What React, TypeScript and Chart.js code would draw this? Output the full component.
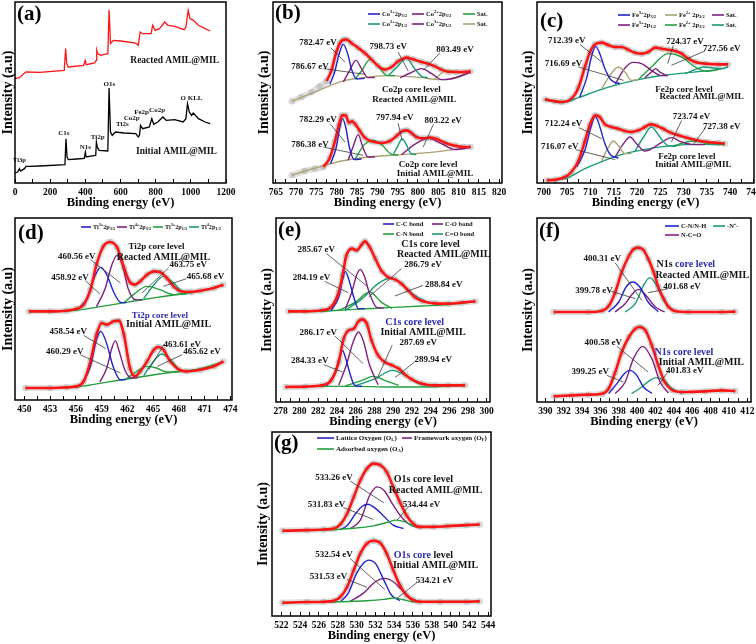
import React, { useEffect, useRef } from "react";
import { Chart, registerables } from "chart.js";

Chart.register(...registerables);

type P = [number, number];

const FONT = '"Liberation Serif", "Times New Roman", serif';
const RED = "#ff1414";
const BLUE = "#2222cc";
const PURPLE = "#7f1f80";
const GREEN = "#22a03c";
const TEAL = "#189a78";
const OLIVE = "#aaa270";
const INK = "#111111";
const NOTE_BLUE = "#2a2ab0";

// ---------------- tick labels ----------------
const aTicks = [0, 200, 400, 600, 800, 1000, 1200];
const bTicks = [765, 770, 775, 780, 785, 790, 795, 800, 805, 810, 815, 820];
const cTicks = [700, 705, 710, 715, 720, 725, 730, 735, 740, 745];
const dTicks = [450, 453, 456, 459, 462, 465, 468, 471, 474];
const eTicks = [278, 280, 282, 284, 286, 288, 290, 292, 294, 296, 298, 300];
const fTicks = [390, 392, 394, 396, 398, 400, 402, 404, 406, 408, 410, 412];
const gTicks = [522, 524, 526, 528, 530, 532, 534, 536, 538, 540, 542, 544];

// ---------------- (a) survey ----------------
const aInitial: P[] = [[0,30],[15,33],[25,43],[31,36],[54,43],[63,50],[83,50],[140,51],[284,55],[290,133],[296,78],[303,70],[351,72],[394,74],[400,93],[405,78],[447,82],[459,83],[463,123],[468,108],[478,98],[528,96],[535,285],[543,153],[553,143],[572,153],[620,150],[687,148],[701,138],[708,143],[714,173],[726,163],[764,168],[778,193],[789,176],[812,183],[841,198],[860,188],[908,190],[956,183],[972,193],[981,238],[991,213],[1004,203],[1014,210],[1043,193],[1081,183],[1110,178]];
const aReacted: P[] = [[0,313],[25,316],[54,330],[63,333],[140,332],[280,338],[288,403],[294,358],[303,348],[390,353],[400,368],[405,355],[453,360],[461,368],[465,398],[470,388],[486,383],[528,388],[535,520],[543,418],[559,428],[601,426],[687,420],[701,413],[712,453],[726,448],[774,448],[783,473],[797,458],[822,463],[851,483],[870,473],[908,470],[962,460],[972,468],[985,518],[995,493],[1014,488],[1043,473],[1081,463],[1110,456]];

// ---------------- (b) Co2p ----------------
const bUpLead: P[] = [[768.9,245],[771.3,258],[773.8,273],[775.8,290]];
const bUpFit: P[] = [[777.5,306],[778.7,338],[779.9,393],[780.8,420],[781.6,430],[782.4,431],[783.6,420],[785.3,405],[786.9,390],[788.6,370],[790.2,351],[791.8,340],[793.5,348],[795.1,365],[797.2,376],[798.8,371],[800.9,363],[802.5,358],[804.2,350],[805.8,340],[807.4,334],[809.5,333],[811.6,333],[813.0,335]];
const bUpBase: P[] = [[768.9,245],[773.0,265],[777.9,290],[781.2,305],[784.5,313],[788.6,319],[792.7,322],[796.8,320],[800.9,316],[804.9,310],[809.1,314],[813.0,333]];
const bUpCo3a: P[] = [[778.3,296],[779.5,333],[780.5,383],[781.6,416],[782.7,388],[783.6,343],[784.9,312],[786.9,314]];
const bUpCo2a: P[] = [[781.6,303],[783.2,338],[784.7,368],[786.1,343],[787.7,316],[789.4,317]];
const bUpSat1: P[] = [[784.5,312],[786.1,336],[788.2,371],[790.2,350],[792.3,323],[794.3,322]];
const bUpCo2b: P[] = [[792.7,322],[794.7,346],[797.2,374],[799.2,343],[800.9,320],[802.5,316]];
const bUpCo3b: P[] = [[795.6,316],[798.1,330],[800.9,343],[803.4,328],[805.9,310],[807.9,312],[813.0,332]];
const bUpSat2: P[] = [[804.2,312],[806.2,333],[808.3,338],[810.3,330],[813.0,334]];
const bLoLead: P[] = [[768.9,23],[772.1,36],[774.6,43]];
const bLoFit: P[] = [[776.7,48],[778.3,76],[779.5,123],[780.5,173],[781.3,203],[782.2,203],[783.0,181],[783.8,185],[784.6,176],[785.7,156],[786.9,136],[788.6,125],[791.0,120],[793.1,126],[794.7,141],[796.2,156],[797.3,158],[798.4,150],[799.6,138],[801.3,134],[802.9,136],[804.6,132],[806.6,121],[809.1,112],[811.1,108],[813.0,108]];
const bLoBase: P[] = [[768.9,23],[772.1,36],[776.2,50],[781.2,66],[787.7,78],[796.8,86],[804.9,94],[813.0,108]];
const bLoCo3a: P[] = [[778.5,58],[779.9,108],[780.7,163],[781.4,193],[782.2,168],[783.1,108],[784.3,70],[786.1,72]];
const bLoCo2a: P[] = [[782.8,68],[784.0,108],[785.3,145],[786.4,108],[787.7,78],[789.4,78]];
const bLoSat1: P[] = [[784.5,72],[786.9,116],[789.0,128],[791.0,116],[793.5,86],[795.1,84]];
const bLoCo2b: P[] = [[793.9,84],[795.1,113],[796.1,132],[797.1,116],[798.3,88],[799.6,85]];
const bLoCo3b: P[] = [[796.0,85],[799.2,116],[802.5,134],[805.8,118],[809.1,100],[813.0,107]];

// ---------------- (c) Fe2p ----------------
const cUpFit: P[] = [[700.2,251],[702.4,245],[703.8,243],[705.9,253],[707.4,286],[708.8,348],[709.9,393],[711.0,416],[712.4,421],[713.8,414],[715.3,408],[716.7,408],[718.1,400],[719.6,391],[721.0,388],[722.4,393],[723.9,406],[725.3,403],[726.7,400],[728.2,396],[729.6,388],[731.0,373],[732.5,363],[734.6,358],[737.5,356],[739.6,356]];
const cUpBase: P[] = [[700.2,248],[703.8,241],[707.4,256],[711.7,278],[716.0,296],[720.3,310],[724.6,321],[728.9,328],[733.2,334],[737.5,341],[739.6,348]];
const cUpFe3a: P[] = [[707.7,258],[709.2,316],[710.2,378],[711.1,410],[712.0,388],[713.1,343],[714.5,308],[716.3,298]];
const cUpFe2a: P[] = [[712.4,283],[714.2,323],[716.0,348],[717.4,333],[718.8,308],[720.3,310]];
const cUpSat1: P[] = [[715.3,296],[717.4,345],[719.2,362],[721.0,358],[723.1,338],[724.9,323],[726.7,322]];
const cUpFe3b: P[] = [[721.7,316],[723.1,333],[724.0,343],[724.9,333],[726.4,322]];
const cUpFe2b: P[] = [[720.3,310],[723.1,348],[726.7,388],[729.6,378],[732.5,348],[735.0,335],[737.5,340]];
const cUpSat2: P[] = [[730.3,328],[732.5,340],[734.3,348],[736.4,345],[738.9,343]];
const cLoFit: P[] = [[700.6,8],[702.4,10],[704.5,18],[705.9,33],[707.4,66],[708.8,126],[709.9,176],[711.0,203],[712.0,198],[713.1,176],[714.5,168],[716.0,163],[717.4,156],[718.8,153],[720.3,158],[721.7,168],[722.9,176],[724.2,172],[725.7,162],[727.1,152],[728.9,143],[730.7,136],[732.8,128],[735.0,123],[737.5,120],[738.9,118]];
const cLoBase: P[] = [[700.6,8],[704.5,13],[708.8,43],[713.1,68],[717.4,88],[721.7,101],[726.0,110],[730.3,115],[734.6,116],[738.9,115]];
const cLoFe3a: P[] = [[707.0,48],[708.8,98],[710.1,168],[711.0,200],[711.8,178],[713.1,118],[714.4,83],[716.0,75]];
const cLoFe2a: P[] = [[712.4,66],[713.8,106],[714.9,126],[716.0,112],[717.4,88],[718.8,88]];
const cLoSat1: P[] = [[715.3,78],[717.1,118],[718.5,138],[719.9,118],[721.7,96],[723.1,101]];
const cLoFe2b: P[] = [[719.6,96],[721.4,138],[723.1,168],[724.9,138],[726.7,112],[728.5,110]];
const cLoFe3b: P[] = [[723.1,102],[725.3,122],[727.4,136],[729.6,123],[731.7,116],[734.6,115]];
const cLoSat2: P[] = [[728.2,112],[730.3,122],[732.5,126],[734.6,120],[736.8,116]];

// ---------------- (d) Ti2p ----------------
const dUpFit: P[] = [[450.5,266],[453.0,266],[454.9,268],[456.1,274],[456.9,286],[457.7,331],[458.4,406],[459.2,461],[460.0,474],[460.8,458],[461.6,398],[462.3,353],[462.9,346],[463.5,356],[464.3,376],[465.1,386],[465.8,384],[466.6,366],[467.4,341],[468.2,326],[469.3,324],[470.5,328],[472.1,336],[473.2,346]];
const dUpBase: P[] = [[450.5,265],[454.9,267],[456.9,272],[458.8,280],[461.2,290],[463.5,300],[465.8,309],[468.2,318],[470.5,327],[473.2,345]];
const dUpTi3a: P[] = [[456.3,273],[457.3,306],[458.2,371],[458.9,398],[459.6,376],[460.4,324],[461.2,293],[461.9,292]];
const dUpTi4a: P[] = [[458.4,280],[459.4,334],[460.2,406],[460.8,434],[461.4,406],[462.1,334],[462.9,301],[463.7,300]];
const dUpTi3b: P[] = [[461.6,292],[462.7,316],[464.3,341],[465.8,331],[467.4,316],[468.9,318]];
const dUpTi4b: P[] = [[463.9,304],[465.1,346],[466.2,371],[467.4,351],[468.6,323],[469.7,322]];
const dLoFit: P[] = [[450.1,36],[453.0,36],[454.9,38],[456.1,41],[456.9,56],[457.7,116],[458.4,196],[459.0,231],[459.6,226],[460.4,236],[461.0,238],[461.6,196],[462.3,96],[462.9,71],[463.5,86],[464.3,116],[465.1,151],[465.6,159],[466.2,151],[467.0,116],[468.0,91],[468.9,86],[470.5,91],[472.1,101],[473.2,116]];
const dLoBase: P[] = [[450.1,35],[456.1,39],[458.8,50],[461.2,60],[463.5,69],[465.8,78],[468.2,86],[470.5,94],[473.2,115]];
const dLoTi3a: P[] = [[456.7,46],[457.7,101],[458.4,181],[458.9,206],[459.5,176],[460.4,96],[461.2,60],[461.9,62]];
const dLoTi4a: P[] = [[458.8,54],[459.6,96],[460.2,156],[460.6,178],[461.0,151],[461.7,91],[462.5,66],[463.3,68]];
const dLoTi3b: P[] = [[461.9,64],[463.1,86],[464.3,101],[465.4,96],[466.6,84],[468.2,85]];
const dLoTi4b: P[] = [[463.9,73],[464.9,111],[466.0,138],[467.2,116],[468.4,86],[469.5,88]];

// ---------------- (e) C1s ----------------
const eUpFit: P[] = [[278.8,272],[280.6,272],[282.4,275],[283.4,285],[284.2,330],[284.6,380],[285.0,438],[285.6,460],[286.1,455],[286.7,474],[287.0,482],[287.5,465],[288.1,430],[288.8,392],[289.5,374],[290.2,368],[290.9,355],[291.6,335],[292.3,315],[293.1,303],[294.5,296],[295.9,295],[297.3,298],[298.8,302]];
const eUpBase: P[] = [[278.8,271],[283.1,273],[285.9,278],[289.5,283],[293.1,288],[295.9,292],[298.8,302]];
const eUpCC: P[] = [[283.4,275],[284.2,315],[284.6,365],[284.9,392],[285.3,365],[285.8,315],[286.3,280],[287.0,280]];
const eUpCO: P[] = [[284.9,279],[285.6,330],[286.1,380],[286.5,398],[286.9,380],[287.5,325],[288.3,283],[289.0,282]];
const eUpCN: P[] = [[284.2,275],[285.9,298],[287.5,330],[288.8,298],[289.9,281]];
const eUpCdO: P[] = [[284.9,275],[286.7,310],[288.4,355],[289.7,372],[290.9,355],[292.3,320],[293.8,298],[295.2,292]];
const eLoFit: P[] = [[278.5,45],[280.6,46],[282.4,50],[283.4,65],[284.2,120],[284.7,188],[285.2,214],[285.8,220],[286.3,242],[286.7,248],[287.2,235],[287.7,185],[288.4,140],[289.1,120],[289.9,110],[290.6,100],[291.3,82],[292.0,68],[293.1,55],[294.5,50],[295.9,50],[297.7,50]];
const eLoBase: P[] = [[278.5,45],[282.4,47],[285.9,47],[289.5,45],[293.1,45],[297.7,50]];
const eLoCC: P[] = [[282.9,48],[283.8,90],[284.3,135],[284.6,155],[284.9,135],[285.4,85],[285.9,50],[286.7,47]];
const eLoCO: P[] = [[284.2,50],[285.0,110],[285.8,185],[286.3,210],[286.8,185],[287.5,110],[288.4,52]];
const eLoCN: P[] = [[284.9,48],[286.7,65],[287.9,77],[289.1,65],[290.6,50]];
const eLoCdO: P[] = [[285.9,48],[288.1,70],[289.9,95],[291.3,80],[292.7,55],[294.1,48]];

// ---------------- (f) N1s ----------------
const fUpFit: P[] = [[390.9,270],[394.7,270],[396.2,274],[396.9,288],[397.6,328],[398.3,388],[399.1,438],[399.6,458],[400.1,463],[400.7,456],[401.2,430],[401.8,390],[402.3,345],[402.9,310],[403.4,286],[404.1,273],[405.6,270],[409.2,270],[410.7,271]];
const fUpCN: P[] = [[396.9,270],[398.0,300],[398.8,345],[399.5,360],[400.3,345],[401.2,300],[402.3,271]];
const fUpNCO: P[] = [[397.6,270],[398.7,295],[399.6,328],[400.2,338],[400.9,322],[402.0,285],[403.0,270]];
const fUpNp: P[] = [[398.7,270],[399.8,295],[400.7,350],[401.4,373],[402.1,350],[403.0,300],[404.1,271]];
const fLoFit: P[] = [[390.9,17],[392.9,20],[394.7,22],[396.2,25],[396.9,40],[397.6,88],[398.3,148],[399.1,195],[399.8,220],[400.3,225],[400.9,215],[401.6,170],[402.3,110],[403.0,60],[403.8,36],[404.9,30],[407.4,32],[409.2,35],[410.7,33]];
const fLoCN: P[] = [[396.9,25],[397.8,55],[398.6,85],[399.2,95],[399.9,82],[400.7,45],[401.6,26]];
const fLoNCO: P[] = [[397.6,25],[398.7,60],[399.6,130],[400.6,167],[401.6,130],[402.5,60],[403.4,27]];
const fLoNp: P[] = [[399.4,25],[400.5,45],[401.4,65],[402.1,73],[402.9,65],[403.8,40],[404.9,26]];

// ---------------- (g) O1s ----------------
const gUpFit: P[] = [[522.1,256],[524.7,258],[526.5,260],[527.6,263],[528.3,276],[529.0,308],[529.7,358],[530.4,408],[531.1,443],[531.8,458],[532.5,454],[533.2,433],[533.9,388],[534.6,343],[535.3,303],[536.0,278],[536.7,268],[538.2,268],[539.6,270],[541.7,273],[543.1,275]];
const gUpOA: P[] = [[522.1,256],[526.5,258],[529.3,263],[531.8,271],[533.2,281],[534.2,288],[535.2,282],[536.0,271],[537.5,268],[543.1,274]];
const gUpOL: P[] = [[528.3,260],[529.0,272],[529.9,308],[530.6,330],[531.2,336],[531.8,328],[532.9,300],[533.9,273],[535.0,263]];
const gUpOF: P[] = [[529.3,262],[530.4,288],[531.4,363],[532.2,388],[532.9,378],[533.9,333],[535.0,290],[536.0,270],[536.9,266]];
const gLoFit: P[] = [[522.1,40],[524.7,42],[526.5,43],[527.6,46],[528.3,58],[529.0,88],[529.7,138],[530.4,188],[531.1,218],[531.8,226],[532.5,220],[533.2,188],[533.9,138],[534.6,93],[535.3,63],[536.0,48],[536.7,43],[538.9,43],[541.7,43],[543.1,44]];
const gLoOA: P[] = [[522.1,40],[528.3,43],[531.1,46],[532.9,50],[534.0,54],[535.0,49],[536.0,43],[543.1,44]];
const gLoOL: P[] = [[528.3,43],[529.1,68],[530.0,128],[530.7,158],[531.3,168],[532.0,158],[532.9,108],[533.7,63],[534.6,46]];
const gLoOF: P[] = [[529.3,44],[530.7,68],[532.0,103],[533.0,113],[533.9,103],[535.0,73],[536.0,50],[536.9,43]];

// ---------------- annotations (data coordinates) ----------------
interface Note { x: number; y: number; t: string; s?: number }
const aNotes: Note[] = [
  { x: 908, y: 368, t: "Reacted AMIL@MIL", s: 9.5 }, { x: 918, y: 93, t: "Initial AMIL@MIL", s: 9.5 },
  { x: 25, y: 68, t: "Ti3p", s: 6.5 }, { x: 278, y: 148, t: "C1s", s: 7 }, { x: 400, y: 108, t: "N1s", s: 7 },
  { x: 470, y: 136, t: "Ti2p", s: 7 }, { x: 537, y: 296, t: "O1s", s: 7 }, { x: 610, y: 176, t: "Ti2s", s: 7 },
  { x: 664, y: 193, t: "Co2p", s: 7 }, { x: 720, y: 213, t: "Fe2p", s: 7 }, { x: 808, y: 218, t: "Co2p", s: 7 },
  { x: 1004, y: 253, t: "O KLL", s: 7 },
];
const bNotes: Note[] = [
  { x: 775.4, y: 420, t: "782.47 eV" }, { x: 773.4, y: 348, t: "786.67 eV" }, { x: 792.7, y: 408, t: "798.73 eV" },
  { x: 809.1, y: 400, t: "803.49 eV" }, { x: 798.4, y: 280, t: "Co2p core level" }, { x: 799.1, y: 250, t: "Reacted AMIL@MIL" },
  { x: 775.4, y: 191, t: "782.29 eV" }, { x: 773.4, y: 116, t: "786.38 eV" }, { x: 794.3, y: 196, t: "797.94 eV" },
  { x: 806.2, y: 188, t: "803.22 eV" }, { x: 802.5, y: 56, t: "Co2p core level" }, { x: 804.2, y: 28, t: "Initial AMIL@MIL" },
];
const bLeads = [[778.5,406,782.0,363],[776.7,343,786.9,326],[795.1,393,797.6,336],[805.4,390,801.3,338],[778.5,176,782.0,123],[776.7,108,786.5,83],[795.1,180,796.1,128],[803.8,176,801.3,108]];
const cNotes: Note[] = [
  { x: 704.9, y: 426, t: "712.39 eV" }, { x: 704.2, y: 358, t: "716.69 eV" }, { x: 730.3, y: 423, t: "724.37 eV" },
  { x: 738.2, y: 403, t: "727.56 eV" }, { x: 730.1, y: 280, t: "Fe2p core level" }, { x: 733.9, y: 258, t: "Reacted AMIL@MIL" },
  { x: 704.2, y: 178, t: "712.24 eV" }, { x: 703.4, y: 108, t: "716.07 eV" }, { x: 731.7, y: 198, t: "723.74 eV" },
  { x: 738.2, y: 170, t: "727.38 eV" }, { x: 730.7, y: 80, t: "Fe2p core level" }, { x: 732.1, y: 55, t: "Initial AMIL@MIL" },
];
const cLeads = [[707.7,416,712.4,363],[707.4,348,717.1,308],[727.8,413,726.6,358],[734.6,396,727.4,353],[707.5,166,712.4,133],[706.8,100,715.3,70],[729.6,188,727.4,123],[734.6,163,732.1,116]];
const dNotes: Note[] = [
  { x: 456.1, y: 431, t: "460.56 eV" }, { x: 455.3, y: 368, t: "458.92 eV" }, { x: 465.4, y: 459, t: "Ti2p core level" },
  { x: 466.2, y: 428, t: "Reacted AMIL@MIL", s: 10 }, { x: 469.1, y: 406, t: "463.75 eV" }, { x: 471.1, y: 371, t: "465.68 eV" },
  { x: 465.8, y: 254, t: "|Ti2p core level|" }, { x: 466.8, y: 226, t: "Initial AMIL@MIL", s: 10 },
  { x: 455.1, y: 204, t: "458.54 eV" }, { x: 454.7, y: 144, t: "460.29 eV" }, { x: 468.4, y: 166, t: "463.61 eV" },
  { x: 470.7, y: 146, t: "465.62 eV" },
];
const dLeads = [[457.7,421,461.2,351],[457.1,358,458.8,318],[466.8,396,463.7,321],[468.9,364,466.2,341],[456.9,194,459.5,154],[456.5,136,461.2,81],[466.3,168,464.5,91],[468.4,136,465.5,101]];
const eNotes: Note[] = [
  { x: 281.8, y: 457, t: "285.67 eV" }, { x: 281.3, y: 373, t: "284.19 eV" }, { x: 293.2, y: 412, t: "286.79 eV" },
  { x: 295.4, y: 353, t: "288.84 eV" }, { x: 294.0, y: 472, t: "C1s core level", s: 10 }, { x: 295.4, y: 443, t: "Reacted AMIL@MIL", s: 10 },
  { x: 292.3, y: 239, t: "|C1s core level|", s: 10 }, { x: 293.2, y: 210, t: "Initial AMIL@MIL", s: 10 },
  { x: 282.0, y: 208, t: "286.17 eV" }, { x: 281.1, y: 123, t: "284.33 eV" }, { x: 292.7, y: 179, t: "287.69 eV" },
  { x: 294.3, y: 127, t: "289.94 eV" },
];
const eLeads = [[282.9,445,287.2,348],[282.7,362,285.2,328],[290.9,400,287.4,315],[293.2,350,290.2,318],[283.8,198,286.8,115],[282.6,112,284.6,90],[289.9,170,288.3,70],[292.3,120,290.2,73]];
const fNotes: Note[] = [
  { x: 396.2, y: 430, t: "400.31 eV" }, { x: 395.3, y: 335, t: "399.78 eV" }, { x: 404.9, y: 345, t: "401.68 eV" },
  { x: 405.3, y: 412, t: "N1s |core level|", s: 10 }, { x: 407.1, y: 380, t: "Reacted AMIL@MIL", s: 10 },
  { x: 396.3, y: 178, t: "400.58 eV" }, { x: 394.9, y: 90, t: "399.25 eV" }, { x: 405.2, y: 95, t: "401.83 eV" },
  { x: 405.1, y: 150, t: "|N1s core level|", s: 10 }, { x: 407.0, y: 120, t: "Initial AMIL@MIL", s: 10 },
];
const fLeads = [[397.6,418,400.5,305],[397.2,332,399.8,310],[403.4,340,401.2,328],[397.8,167,401.2,90],[396.7,80,398.5,60],[403.4,92,402.3,50]];
const gNotes: Note[] = [
  { x: 527.6, y: 415, t: "533.26 eV" }, { x: 526.8, y: 336, t: "531.83 eV" }, { x: 536.9, y: 336, t: "534.44 eV" },
  { x: 537.1, y: 410, t: "O1s core level", s: 10 }, { x: 538.4, y: 378, t: "Reacted AMIL@MIL", s: 10 },
  { x: 527.6, y: 183, t: "532.54 eV" }, { x: 527.0, y: 118, t: "531.53 eV" }, { x: 538.3, y: 106, t: "534.21 eV" },
  { x: 537.1, y: 182, t: "|O1s core| level", s: 10 }, { x: 538.4, y: 152, t: "Initial AMIL@MIL", s: 10 },
];
const gLeads = [[529.3,406,532.9,340],[528.6,326,531.8,290],[535.5,328,534.3,288],[529.3,173,533.0,80],[529.0,110,531.1,86],[536.4,100,534.3,53]];

// ---------------- legends ----------------
interface Leg { t: string; c: string; dx: number; dy: number; len: number }
const bLegend: Leg[] = [
  { t: "Co^{3+}2p_{3/2}", c: BLUE, dx: 95, dy: 12, len: 12 }, { t: "Co^{2+}2p_{3/2}", c: PURPLE, dx: 139, dy: 12, len: 12 },
  { t: "Sat.", c: GREEN, dx: 190, dy: 12, len: 12 }, { t: "Co^{2+}2p_{1/2}", c: TEAL, dx: 95, dy: 22, len: 12 },
  { t: "Co^{3+}2p_{1/2}", c: PURPLE, dx: 139, dy: 22, len: 12 }, { t: "Sat.", c: OLIVE, dx: 190, dy: 22, len: 12 },
];
const cLegend: Leg[] = [
  { t: "Fe^{3+}2p_{3/2}", c: BLUE, dx: 81, dy: 13, len: 12 }, { t: "Fe^{2+} 2p_{3/2}", c: OLIVE, dx: 128, dy: 13, len: 12 },
  { t: "Sat.", c: PURPLE, dx: 175, dy: 13, len: 12 }, { t: "Fe^{3+}2p_{1/2}", c: PURPLE, dx: 81, dy: 23, len: 12 },
  { t: "Fe^{2+} 2p_{1/2}", c: GREEN, dx: 128, dy: 23, len: 12 }, { t: "Sat.", c: TEAL, dx: 175, dy: 23, len: 12 },
];
const dLegend: Leg[] = [
  { t: "Ti^{3+}2p_{3/2}", c: BLUE, dx: 66, dy: 9, len: 10 }, { t: "Ti^{4+}2p_{3/2}", c: PURPLE, dx: 102, dy: 9, len: 10 },
  { t: "Ti^{3+}2p_{1/2}", c: GREEN, dx: 138, dy: 9, len: 10 }, { t: "Ti^{4}2p_{1/2}", c: TEAL, dx: 174, dy: 9, len: 10 },
];
const eLegend: Leg[] = [
  { t: "C-C bond", c: BLUE, dx: 107, dy: 6, len: 11 }, { t: "C-O bond", c: PURPLE, dx: 156, dy: 6, len: 11 },
  { t: "C-N bond", c: GREEN, dx: 107, dy: 16, len: 11 }, { t: "C=O bond", c: TEAL, dx: 156, dy: 16, len: 11 },
];
const fLegend: Leg[] = [
  { t: "C-N/N-H", c: BLUE, dx: 128, dy: 8, len: 14 }, { t: "-N^{+}-", c: TEAL, dx: 176, dy: 8, len: 12 },
  { t: "N-C=O", c: PURPLE, dx: 128, dy: 17, len: 14 },
];
const gLegend: Leg[] = [
  { t: "Lattice Oxygen (O_{L})", c: BLUE, dx: 45, dy: 6, len: 17 }, { t: "Framework oxygen (O_{F})", c: PURPLE, dx: 130, dy: 6, len: 10 },
  { t: "Adsorbed oxygen (O_{A})", c: GREEN, dx: 45, dy: 17, len: 17 },
];

// ---------------- panel structure ----------------
type Role = "fit" | "comp" | "base" | "raw" | "survey";
interface Curve { pts: P[]; color: string; role: Role }
interface Panel {
  tag: string; L: number; T: number; R: number; B: number;
  xmin: number; xmax: number; ymax: number; ticks: number[];
  curves: Curve[]; notes: Note[]; leads: number[][]; legend: Leg[]; legSize: number;
  tagDx: number; tagDy: number;
}
const raw = (pts: P[]): Curve => ({ pts, color: "#aaa", role: "raw" });
const fit = (pts: P[]): Curve => ({ pts, color: RED, role: "fit" });
const comp = (pts: P[], color: string): Curve => ({ pts, color, role: "comp" });
const base = (pts: P[], color: string): Curve => ({ pts, color, role: "base" });
const survey = (pts: P[], color: string): Curve => ({ pts, color, role: "survey" });

const PANELS: Panel[] = [
  {
    tag: "(a)", L: 15, T: 2, R: 226, B: 183, xmin: 0, xmax: 1200, ymax: 543, ticks: aTicks,
    curves: [survey(aReacted, RED), survey(aInitial, "#000")],
    notes: aNotes, leads: [], legend: [], legSize: 7, tagDx: 2, tagDy: 2,
  },
  {
    tag: "(b)", L: 273, T: 2, R: 502, B: 183, xmin: 764.3, xmax: 820.7, ymax: 543, ticks: bTicks,
    curves: [
      raw([...bUpLead, ...bUpFit]), raw([...bLoLead, ...bLoFit]), base(bUpBase, OLIVE), base(bLoBase, OLIVE),
      comp(bUpCo3a, BLUE), comp(bUpCo2a, PURPLE), comp(bUpSat1, GREEN), comp(bUpCo2b, TEAL), comp(bUpCo3b, PURPLE), comp(bUpSat2, OLIVE),
      comp(bLoCo3a, BLUE), comp(bLoCo2a, PURPLE), comp(bLoSat1, GREEN), comp(bLoCo2b, TEAL), comp(bLoCo3b, PURPLE),
      fit(bUpFit), fit(bLoFit),
    ],
    notes: bNotes, leads: bLeads, legend: bLegend, legSize: 6.5, tagDx: 2, tagDy: 1,
  },
  {
    tag: "(c)", L: 537, T: 2, R: 754, B: 183, xmin: 698.5, xmax: 745.15, ymax: 543, ticks: cTicks,
    curves: [
      raw(cUpFit), raw(cLoFit), base(cUpBase, TEAL), base(cLoBase, TEAL),
      comp(cUpFe3a, BLUE), comp(cUpFe2a, OLIVE), comp(cUpSat1, PURPLE), comp(cUpFe3b, PURPLE), comp(cUpFe2b, GREEN), comp(cUpSat2, TEAL),
      comp(cLoFe3a, BLUE), comp(cLoFe2a, OLIVE), comp(cLoSat1, PURPLE), comp(cLoFe2b, TEAL), comp(cLoFe3b, PURPLE), comp(cLoSat2, GREEN),
      fit(cUpFit), fit(cLoFit),
    ],
    notes: cNotes, leads: cLeads, legend: cLegend, legSize: 6.5, tagDx: 3, tagDy: 9,
  },
  {
    tag: "(d)", L: 15, T: 218, R: 232, B: 400, xmin: 448.9, xmax: 474.2, ymax: 546, ticks: dTicks,
    curves: [
      raw(dUpFit), raw(dLoFit), base(dUpBase, GREEN), base(dLoBase, GREEN),
      comp(dUpTi3a, BLUE), comp(dUpTi4a, PURPLE), comp(dUpTi3b, GREEN), comp(dUpTi4b, TEAL),
      comp(dLoTi3a, BLUE), comp(dLoTi4a, PURPLE), comp(dLoTi3b, GREEN), comp(dLoTi4b, TEAL),
      fit(dUpFit), fit(dLoFit),
    ],
    notes: dNotes, leads: dLeads, legend: dLegend, legSize: 6.2, tagDx: 3, tagDy: 5,
  },
  {
    tag: "(e)", L: 276, T: 218, R: 490, B: 402, xmin: 277.5, xmax: 300.35, ymax: 552, ticks: eTicks,
    curves: [
      raw(eUpFit), raw(eLoFit), base(eUpBase, GREEN), base(eLoBase, GREEN),
      comp(eUpCC, BLUE), comp(eUpCO, PURPLE), comp(eUpCN, GREEN), comp(eUpCdO, TEAL),
      comp(eLoCC, BLUE), comp(eLoCO, PURPLE), comp(eLoCN, GREEN), comp(eLoCdO, TEAL),
      fit(eUpFit), fit(eLoFit),
    ],
    notes: eNotes, leads: eLeads, legend: eLegend, legSize: 6.5, tagDx: 2, tagDy: 2,
  },
  {
    tag: "(f)", L: 537, T: 218, R: 751, B: 402, xmin: 389.1, xmax: 412.4, ymax: 552, ticks: fTicks,
    curves: [
      raw(fUpFit), raw(fLoFit),
      comp(fUpCN, BLUE), comp(fUpNCO, PURPLE), comp(fUpNp, TEAL),
      comp(fLoCN, BLUE), comp(fLoNCO, PURPLE), comp(fLoNp, TEAL),
      fit(fUpFit), fit(fLoFit),
    ],
    notes: fNotes, leads: fLeads, legend: fLegend, legSize: 6.5, tagDx: 2, tagDy: 3,
  },
  {
    tag: "(g)", L: 272, T: 432, R: 491, B: 616, xmin: 521.0, xmax: 544.3, ymax: 553, ticks: gTicks,
    curves: [
      raw(gUpFit), raw(gLoFit),
      comp(gUpOA, GREEN), comp(gUpOL, BLUE), comp(gUpOF, PURPLE),
      comp(gLoOA, GREEN), comp(gLoOL, BLUE), comp(gLoOF, PURPLE),
      fit(gUpFit), fit(gLoFit),
    ],
    notes: gNotes, leads: gLeads, legend: gLegend, legSize: 7, tagDx: 2, tagDy: 1,
  },
];

// ---------------- rich text helpers ----------------
interface Seg { s: string; k: number; alt: boolean; w: number }
function parseRich(text: string): Seg[] {
  const out: Seg[] = [];
  let alt = false;
  let buf = "";
  let i = 0;
  const push = (s: string, k: number) => { if (s) out.push({ s, k, alt, w: 0 }); };
  while (i < text.length) {
    const c = text[i];
    if ((c === "^" || c === "_") && text[i + 1] === "{") {
      push(buf, 0); buf = "";
      const j = text.indexOf("}", i);
      push(text.slice(i + 2, j), c === "^" ? 1 : 2);
      i = j + 1;
    } else if (c === "|") {
      push(buf, 0); buf = ""; alt = !alt; i++;
    } else { buf += c; i++; }
  }
  push(buf, 0);
  return out;
}
function drawRich(ctx: CanvasRenderingContext2D, text: string, x: number, y: number, size: number, align: "left" | "center", color: string) {
  const segs = parseRich(text);
  const fontFor = (k: number) => `bold ${k === 0 ? size : size * 0.68}px ${FONT}`;
  let total = 0;
  for (const s of segs) { ctx.font = fontFor(s.k); s.w = ctx.measureText(s.s).width; total += s.w; }
  let cx = align === "center" ? x - total / 2 : x;
  ctx.textBaseline = "middle";
  ctx.textAlign = "left";
  for (const s of segs) {
    ctx.font = fontFor(s.k);
    ctx.fillStyle = s.alt ? NOTE_BLUE : color;
    const dy = s.k === 1 ? -size * 0.3 : s.k === 2 ? size * 0.28 : 0;
    ctx.fillText(s.s, cx, y + dy);
    cx += s.w;
  }
}

function decoPlugin(p: Panel) {
  return {
    id: "deco",
    afterDraw(chart: any) {
      const { ctx, chartArea: a, scales } = chart;
      const xs = scales.x, ys = scales.y;
      ctx.save();
      ctx.strokeStyle = "#3a3a3a";
      ctx.lineWidth = 0.8;
      for (const [x1, y1, x2, y2] of p.leads) {
        ctx.beginPath();
        ctx.moveTo(xs.getPixelForValue(x1), ys.getPixelForValue(y1));
        ctx.lineTo(xs.getPixelForValue(x2), ys.getPixelForValue(y2));
        ctx.stroke();
      }
      for (const n of p.notes) {
        drawRich(ctx, n.t, xs.getPixelForValue(n.x), ys.getPixelForValue(n.y), n.s || 9, "center", INK);
      }
      for (const g of p.legend) {
        const lx = a.left + g.dx, ly = a.top + g.dy;
        ctx.strokeStyle = g.c;
        ctx.lineWidth = 1.6;
        ctx.beginPath();
        ctx.moveTo(lx, ly);
        ctx.lineTo(lx + g.len, ly);
        ctx.stroke();
        drawRich(ctx, g.t, lx + g.len + 2, ly, p.legSize, "left", INK);
      }
      drawRich(ctx, p.tag, a.left + p.tagDx, a.top + p.tagDy + 11, 21, "left", "#000");
      ctx.strokeStyle = "#000";
      ctx.lineWidth = 1.5;
      ctx.strokeRect(a.left, a.top, a.right - a.left, a.bottom - a.top);
      ctx.restore();
    },
  };
}

const WIDTH: Record<Role, number> = { fit: 2.6, comp: 1.4, base: 1.4, raw: 6, survey: 1.3 };
const ORDER: Record<Role, number> = { fit: 0, survey: 0, comp: 1, base: 2, raw: 3 };

function buildConfig(p: Panel, yw: number, padT: number, padR: number) {
  const majors = p.ticks;
  const all: number[] = [];
  majors.forEach((v, i) => {
    all.push(v);
    if (i < majors.length - 1) all.push((v + majors[i + 1]) / 2);
  });
  const datasets = p.curves.map((c) => {
    const isRaw = c.role === "raw";
    return {
      data: c.pts.map(([x, y]) => ({ x, y })),
      borderColor: isRaw ? "rgba(185,185,185,0.45)" : c.color,
      backgroundColor: isRaw ? "rgba(175,175,175,0.5)" : c.color,
      borderWidth: WIDTH[c.role],
      pointRadius: isRaw ? 3.2 : 0,
      pointBorderWidth: 0,
      fill: false,
      order: ORDER[c.role],
      tension: c.role === "survey" ? 0 : 0.4,
      cubicInterpolationMode: c.role === "survey" ? "default" : "monotone",
    };
  });
  return {
    type: "line",
    data: { datasets },
    options: {
      responsive: false,
      animation: false,
      events: [],
      layout: { padding: { left: 0, top: padT, right: padR, bottom: 0 }, autoPadding: false },
      plugins: { legend: { display: false }, tooltip: { enabled: false } },
      scales: {
        x: {
          type: "linear",
          bounds: "data",
          min: p.xmin,
          max: p.xmax,
          afterBuildTicks: (s: any) => { s.ticks = all.map((v) => ({ value: v })); },
          ticks: {
            autoSkip: false, maxRotation: 0, minRotation: 0, padding: 8, color: "#000",
            font: { family: FONT, size: 9.5, weight: "bold" },
            callback: (v: number) => (majors.indexOf(v) >= 0 ? String(v) : ""),
          },
          grid: { display: true, drawOnChartArea: false, drawTicks: true, tickLength: -4, color: "#000", lineWidth: 1 },
          border: { display: false },
          title: { display: true, text: "Binding energy (eV)", color: "#000", font: { family: FONT, size: 12.5, weight: "bold" }, padding: 0 },
          afterFit: (s: any) => { s.height = 27; s.paddingLeft = 0; s.paddingRight = 0; },
        },
        y: {
          type: "linear",
          bounds: "data",
          min: 0,
          max: p.ymax,
          ticks: { display: false },
          grid: { display: false },
          border: { display: false },
          title: { display: true, text: "Intensity (a.u)", color: "#000", font: { family: FONT, size: 14, weight: "bold" }, padding: 0 },
          afterFit: (s: any) => { s.width = yw; s.paddingTop = 0; s.paddingBottom = 0; },
        },
      },
    },
    plugins: [decoPlugin(p)],
  };
}

function PanelChart({ p }: { p: Panel }) {
  const ref = useRef<HTMLCanvasElement | null>(null);
  const cl = Math.max(0, p.L - 17);
  const ct = Math.max(0, p.T - 3);
  const cr = Math.min(756, p.R + 14);
  const cb = p.B + 27;
  const w = cr - cl;
  const h = cb - ct;
  useEffect(() => {
    const canvas = ref.current;
    if (!canvas) return;
    const chart = new Chart(canvas, buildConfig(p, p.L - cl, p.T - ct, cr - p.R) as any);
    return () => chart.destroy();
  }, [p]);
  return (
    <canvas
      ref={ref}
      width={w}
      height={h}
      style={{ position: "absolute", left: cl, top: ct, width: w, height: h }}
    />
  );
}

export default function App() {
  return (
    <div style={{ position: "absolute", left: 0, top: 0, width: 756, height: 644, background: "#fff", overflow: "hidden" }}>
      {PANELS.map((p) => (
        <PanelChart key={p.tag} p={p} />
      ))}
    </div>
  );
}
